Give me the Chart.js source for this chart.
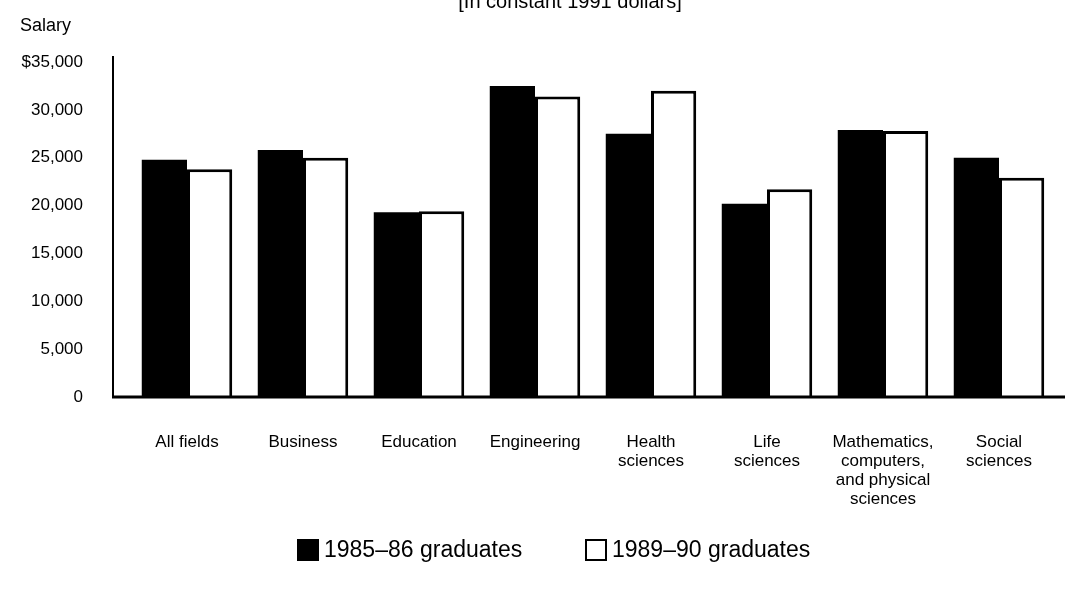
<!DOCTYPE html>
<html>
<head>
<meta charset="utf-8">
<script src="https://cdn.jsdelivr.net/npm/chart.js@4/dist/chart.umd.min.js"></script>
<style>
  html, body { margin: 0; padding: 0; background: #fff; }
  #wrap { width: 1072px; height: 594px; }
</style>
</head>
<body>
<div id="wrap"><canvas id="salaryChart" width="1072" height="594"></canvas></div>
<script>
// Median salary one year after graduation, constant 1991 dollars
const fields = [
  'All fields',
  'Business',
  'Education',
  'Engineering',
  ['Health', 'sciences'],
  ['Life', 'sciences'],
  ['Mathematics,', 'computers,', 'and physical', 'sciences'],
  ['Social', 'sciences']
];
const grads8586 = [24800, 25800, 19300, 32500, 27500, 20200, 27900, 25000];
const grads8990 = [23800, 25000, 19400, 31400, 32000, 21700, 27800, 22900];
const seriesNames = ['1985\u201386 graduates', '1989\u201390 graduates'];
const yTicks = [0, 5000, 10000, 15000, 20000, 25000, 30000, 35000];

const FONT = '"Liberation Sans", Arial, Helvetica, sans-serif';

// axis lines, heading texts and legend
const decorations = {
  id: 'decorations',
  afterDraw(chart) {
    const ctx = chart.ctx;
    const y = chart.scales.y;
    const area = chart.chartArea;
    const axisX = area.left - 16;
    const base = y.getPixelForValue(0);
    ctx.save();
    ctx.strokeStyle = '#000';
    ctx.lineWidth = 2;
    ctx.beginPath();
    ctx.moveTo(axisX, y.getPixelForValue(35000) - 6);
    ctx.lineTo(axisX, base);
    ctx.stroke();
    ctx.lineWidth = 3;
    ctx.beginPath();
    ctx.moveTo(axisX - 1, base);
    ctx.lineTo(area.right + 8, base);
    ctx.stroke();

    ctx.fillStyle = '#000';
    ctx.textBaseline = 'middle';
    ctx.textAlign = 'center';
    ctx.font = '20px ' + FONT;
    ctx.fillText('[In constant 1991 dollars]', 570, 2);
    ctx.textAlign = 'left';
    ctx.font = '18px ' + FONT;
    ctx.fillText('Salary', 20, 26);

    // legend
    const ly = 550;
    const starts = [297, 585];
    ctx.font = '23px ' + FONT;
    chart.data.datasets.forEach((ds, i) => {
      const x = starts[i];
      ctx.fillStyle = ds.backgroundColor;
      ctx.fillRect(x, ly - 11, 22, 22);
      if (ds.borderWidth) {
        ctx.lineWidth = 2;
        ctx.strokeRect(x + 1, ly - 10, 20, 20);
      }
      ctx.fillStyle = '#000';
      ctx.fillText(ds.label, x + 27, ly + 1);
    });
    ctx.restore();
  }
};

new Chart(document.getElementById('salaryChart'), {
  type: 'bar',
  data: {
    labels: fields,
    datasets: [
      {
        label: seriesNames[0],
        data: grads8586,
        backgroundColor: '#000',
        borderColor: '#000',
        borderWidth: 0
      },
      {
        label: seriesNames[1],
        data: grads8990,
        backgroundColor: '#fff',
        borderColor: '#000',
        borderWidth: 3,
        borderSkipped: 'bottom'
      }
    ]
  },
  options: {
    responsive: false,
    animation: false,
    layout: { padding: { top: 62, right: 15, bottom: 0, left: 0 } },
    datasets: { bar: { barPercentage: 1, categoryPercentage: 0.78 } },
    plugins: {
      legend: { display: false },
      tooltip: { enabled: false }
    },
    scales: {
      x: {
        grid: { display: false, drawTicks: false },
        border: { display: false },
        ticks: {
          color: '#000',
          padding: 36,
          maxRotation: 0,
          autoSkip: false,
          font: { family: FONT, size: 17, lineHeight: 1.12 }
        },
        afterFit(scale) { scale.height = 197; }
      },
      y: {
        min: 0,
        max: 35000,
        grid: { display: false, drawTicks: false },
        border: { display: false },
        afterBuildTicks(scale) { scale.ticks = yTicks.map(v => ({ value: v })); },
        ticks: {
          color: '#000',
          padding: 46,
          font: { family: FONT, size: 17 },
          callback(v) {
            const s = Number(v).toLocaleString('en-US');
            return v === 35000 ? '$' + s : s;
          }
        },
        afterFit(scale) { scale.width = 129; }
      }
    }
  },
  plugins: [decorations]
});
</script>
</body>
</html>
